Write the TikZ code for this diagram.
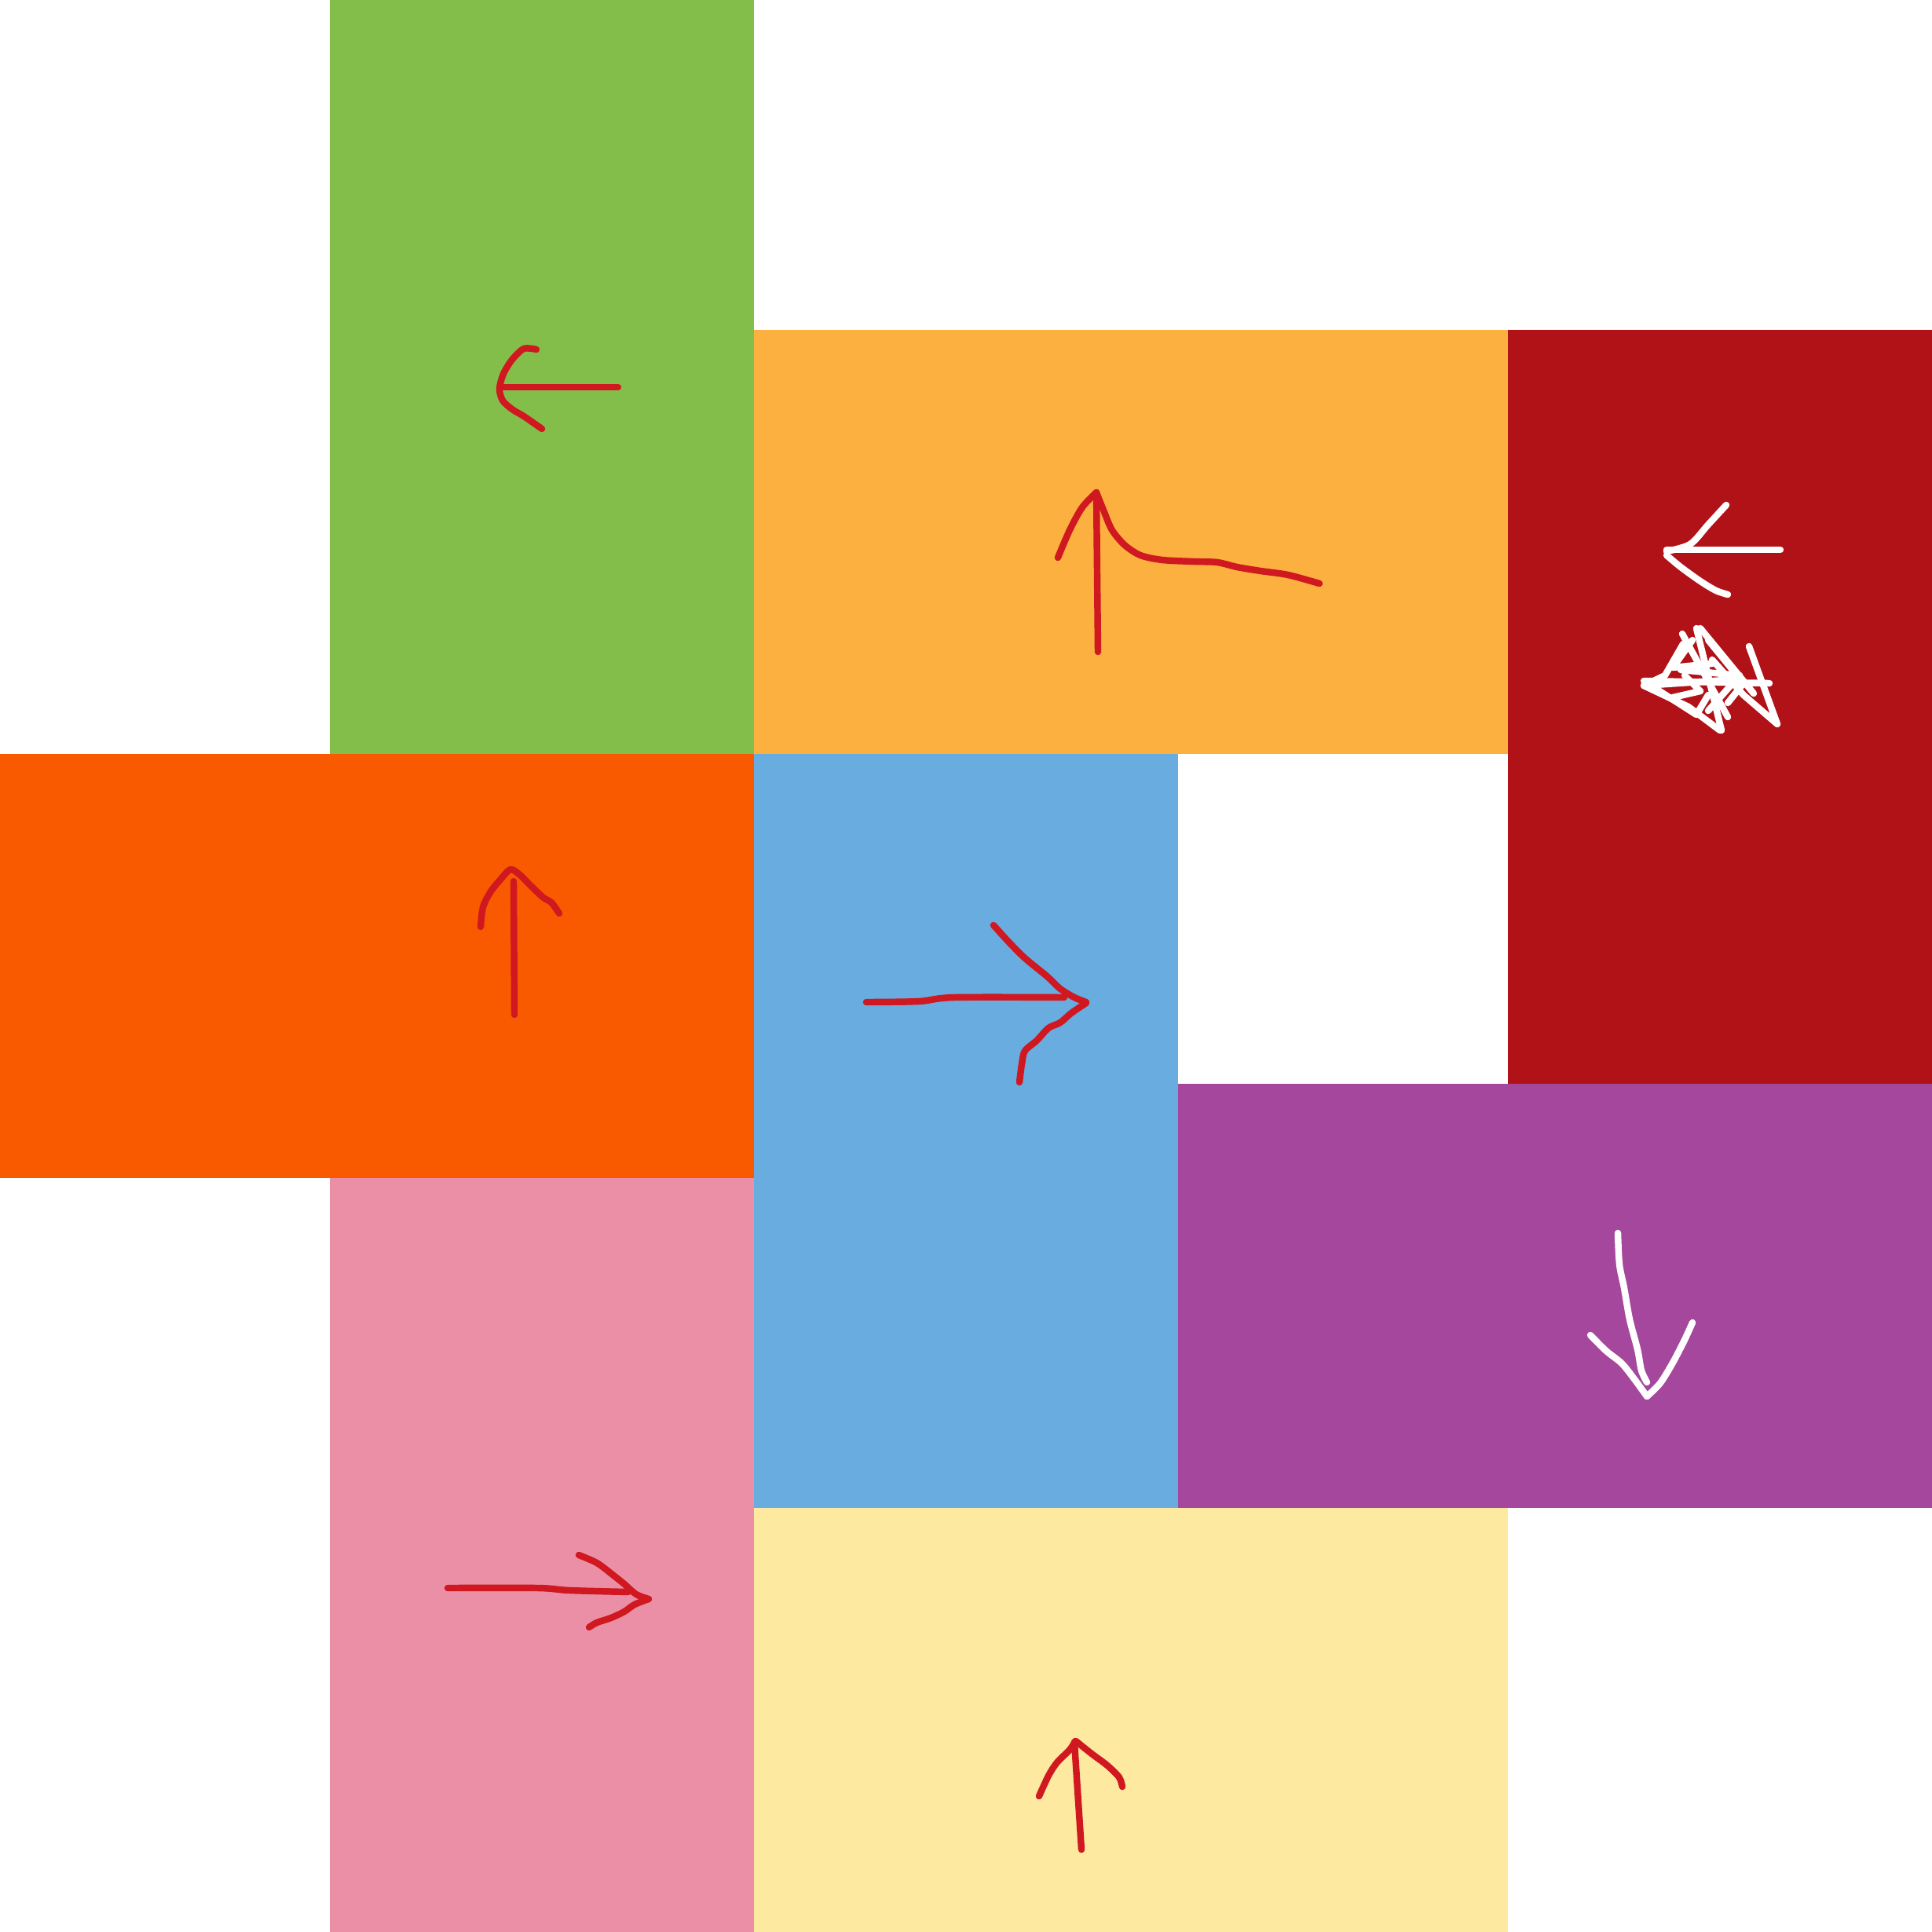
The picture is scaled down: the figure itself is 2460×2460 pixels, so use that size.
\documentclass[tikz,border=0pt]{standalone}
\begin{document}
\begin{tikzpicture}[x=0.01cm,y=-0.01cm,
  pen/.style={line width=2.4pt,line cap=round,line join=round},
  redpen/.style={pen,draw={rgb,255:red,208;green,24;blue,32}},
  whitepen/.style={pen,draw=white}]
\definecolor{cgreen}{RGB}{132,190,74}
\definecolor{corange}{RGB}{251,176,64}
\definecolor{cdred}{RGB}{177,18,23}
\definecolor{cored}{RGB}{249,90,0}
\definecolor{cblue}{RGB}{104,172,224}
\definecolor{cpurple}{RGB}{165,71,157}
\definecolor{cpink}{RGB}{235,143,167}
\definecolor{cyellow}{RGB}{253,233,160}
\useasboundingbox (0,0) rectangle (2460,2460);
\fill[white] (0,0) rectangle (2460,2460);
\fill[cgreen] (420,0) rectangle (960,960);
\fill[corange] (960,420) rectangle (1920,960);
\fill[cdred] (1920,420) rectangle (2460,1380);
\fill[cored] (0,960) rectangle (960,1500);
\fill[cblue] (960,960) rectangle (1500,1920);
\fill[cpurple] (1500,1380) rectangle (2460,1920);
\fill[cpink] (420,1500) rectangle (960,2460);
\fill[cyellow] (960,1920) rectangle (1920,2460);
% green arrow (left)
\draw[redpen] (637,493) -- (787,493);
\draw[redpen] plot[smooth] coordinates {(683,445) (667,444) (652,458) (641,476) (636,495) (640,510) (652,521) (667,530) (680,539) (690,546)};
% orange arrow (up, with tail)
\draw[redpen] (1398,830) -- (1396,627);
\draw[redpen] plot[smooth] coordinates {(1347,710) (1362,675) (1378,646) (1396,627)};
\draw[redpen] plot[smooth] coordinates {(1396,627) (1406,652) (1416,675) (1432,694) (1452,707) (1480,713) (1520,715) (1550,716) (1575,722) (1605,727) (1640,732) (1680,743)};
% dark red arrow (left) white
\draw[whitepen] (2267,700) -- (2122,700);
\draw[whitepen] plot[smooth] coordinates {(2198,643) (2175,668) (2152,693) (2122,702)};
\draw[whitepen] plot[smooth] coordinates {(2122,707) (2140,722) (2165,740) (2185,752) (2200,757)};
% scribble
\draw[whitepen] (2093,867) -- (2253,870);
\draw[whitepen] (2093,873) -- (2210,865);
\draw[whitepen] (2142,807) -- (2200,913);
\draw[whitepen] (2165,800) -- (2233,883);
\draw[whitepen] (2227,823) -- (2263,922) -- (2220,885) -- (2180,840);
\draw[whitepen] (2143,820) -- (2120,860) -- (2093,873);
\draw[whitepen] (2093,873) -- (2150,900) -- (2190,930);
\draw[whitepen] (2160,800) -- (2192,930);
\draw[whitepen] (2110,878) -- (2160,910) -- (2175,885);
\draw[whitepen] (2140,853) -- (2215,860) -- (2175,905);
\draw[whitepen] (2175,815) -- (2220,870) -- (2200,895);
\draw[whitepen] (2145,860) -- (2165,880) -- (2130,888);
\draw[whitepen] (2155,815) -- (2130,850) -- (2180,845);
% orange-red arrow (up)
\draw[redpen] (654,1122) -- (655,1292);
\draw[redpen] plot[smooth] coordinates {(612,1180) (615,1155) (625,1135) (638,1119) (650,1107) (662,1114) (676,1128) (692,1143) (702,1149) (712,1163)};
% blue arrow (right)
\draw[redpen] plot[smooth] coordinates {(1103,1276) (1170,1275) (1215,1270) (1355,1270)};
\draw[redpen] plot[smooth] coordinates {(1265,1178) (1285,1200) (1305,1220) (1333,1243) (1350,1259) (1368,1270) (1383,1276)};
\draw[redpen] plot[smooth] coordinates {(1383,1277) (1364,1290) (1350,1302) (1335,1309) (1320,1325) (1305,1338) (1301,1355) (1298,1378)};
% purple arrow (down) white
\draw[whitepen] plot[smooth] coordinates {(2060,1570) (2062,1610) (2068,1640) (2075,1680) (2085,1718) (2090,1745) (2097,1760)};
\draw[whitepen] plot[smooth] coordinates {(2025,1700) (2045,1720) (2065,1736) (2081,1756) (2097,1778)};
\draw[whitepen] plot[smooth] coordinates {(2097,1778) (2114,1761) (2130,1735) (2145,1706) (2155,1684)};
% pink arrow (right)
\draw[redpen] plot[smooth] coordinates {(570,2022) (685,2022) (725,2025) (800,2027)};
\draw[redpen] plot[smooth] coordinates {(737,1980) (760,1990) (780,2005) (795,2017) (810,2030) (826,2036)};
\draw[redpen] plot[smooth] coordinates {(826,2036) (808,2043) (795,2052) (778,2060) (760,2066) (750,2072)};
% yellow arrow (up)
\draw[redpen] (1377,2355) -- (1368,2218);
\draw[redpen] plot[smooth] coordinates {(1323,2287) (1335,2261) (1346,2244) (1362,2228) (1369,2217)};
\draw[redpen] plot[smooth] coordinates {(1370,2217) (1390,2233) (1410,2248) (1425,2263) (1429,2275)};
\end{tikzpicture}
\end{document}
